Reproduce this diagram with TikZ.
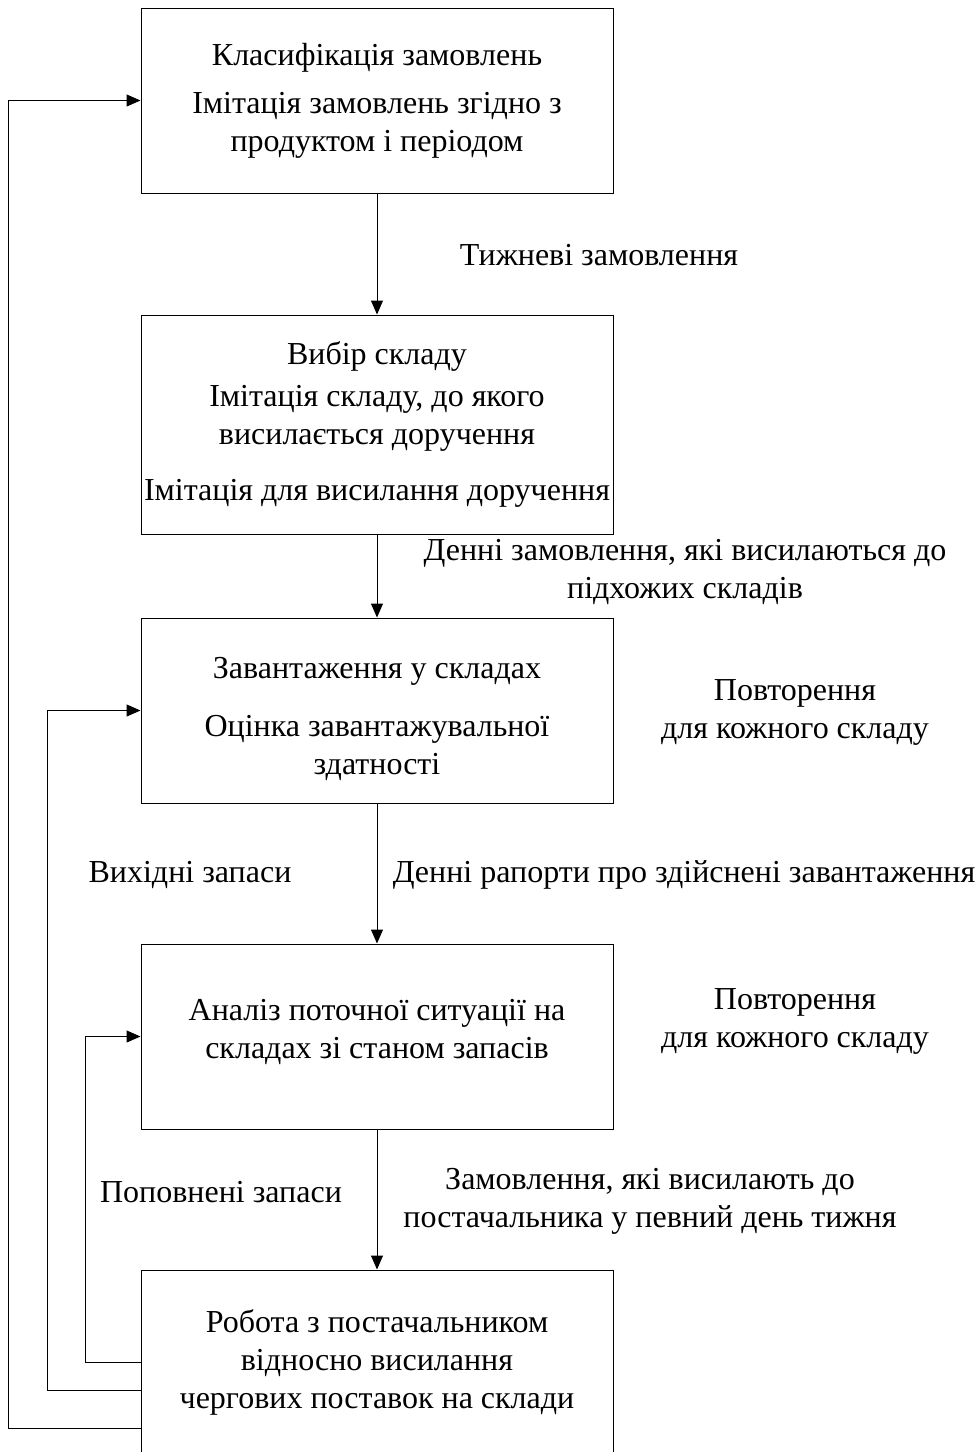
\documentclass[tikz,border=0pt]{standalone}
\usepackage{fontspec}
\setmainfont{Liberation Serif}
\usetikzlibrary{arrows.meta, positioning}

\begin{document}
\begin{tikzpicture}[x=0.5pt, y=-0.5pt,
	box/.style={draw, line width=0.5pt, minimum width=236pt, minimum height=92.5pt, align=center, inner sep=0pt},
	lbl/.style={align=center},
	arr/.style={line width=0.5pt, -{Triangle[length=7pt, width=6pt]}},
	font=\fontsize{16}{19}\selectfont]
	
	% page size
	\clip (0,0) rectangle (979,1452);
	
	% blocks
	\node[box] (cls) at (377,100.5) {Класифікація замовлень\\[5pt]Імітація замовлень згідно з\\продуктом і періодом};
	\node[box, minimum height=109.5pt] (wh) at (377,424.5) {Вибір складу\\[2pt]Імітація складу, до якого\\висилається доручення\\[9pt]Імітація для висилання доручення};
	\node[box] (ldg) at (377,710.5) {Завантаження у складах\\[10pt]Оцінка завантажувальної\\здатності\\[-24pt]\mbox{}};
	\node[box] (anl) at (377,1036.5) {Аналіз поточної ситуації на\\складах зі станом запасів\\[-11pt]\mbox{}};
	\node[box] (sup) at (377,1362.5) {Робота з постачальником\\відносно висилання\\чергових поставок на склади};
	
	% main flow
	\draw[arr] (cls) -- (wh);
	\draw[arr] (wh) -- (ldg);
	\draw[arr] (ldg) -- (anl);
	\draw[arr] (anl) -- (sup);
	
	% flow labels
	\node[lbl] (weekly) at (599,255) {Тижневі замовлення};
	\node[lbl] (daily) at (685,572) {Денні замовлення, які висилаються до\\підхожих складів};
	\node[lbl] (reports) at (684,875) {Денні рапорти про здійснені завантаження};
	\node[lbl] (toSup) at (650,1201) {Замовлення, які висилають до\\постачальника у певний день тижня};
	\node[lbl] (rep1) at (795,712) {Повторення\\для кожного складу};
	\node[lbl] (rep2) at (795,1021) {Повторення\\для кожного складу};
	
	% feedback loops
	\coordinate (fbA) at (141,1428);
	\coordinate (fbB) at (141,1390);
	\coordinate (fbC) at (141,1362);
	\draw[arr] (fbA) -- ++(-133,0) |- (cls.west);
	\draw[arr] (fbB) -- ++(-94,0) |- (ldg.west);
	\draw[arr] (fbC) -- ++(-56,0) |- (anl.west);
	
	% loop labels
	\node[lbl] (outStock) at (190,875) {Вихідні запаси};
	\node[lbl] (newStock) at (221,1192) {Поповнені запаси};
	
\end{tikzpicture}
\end{document}
